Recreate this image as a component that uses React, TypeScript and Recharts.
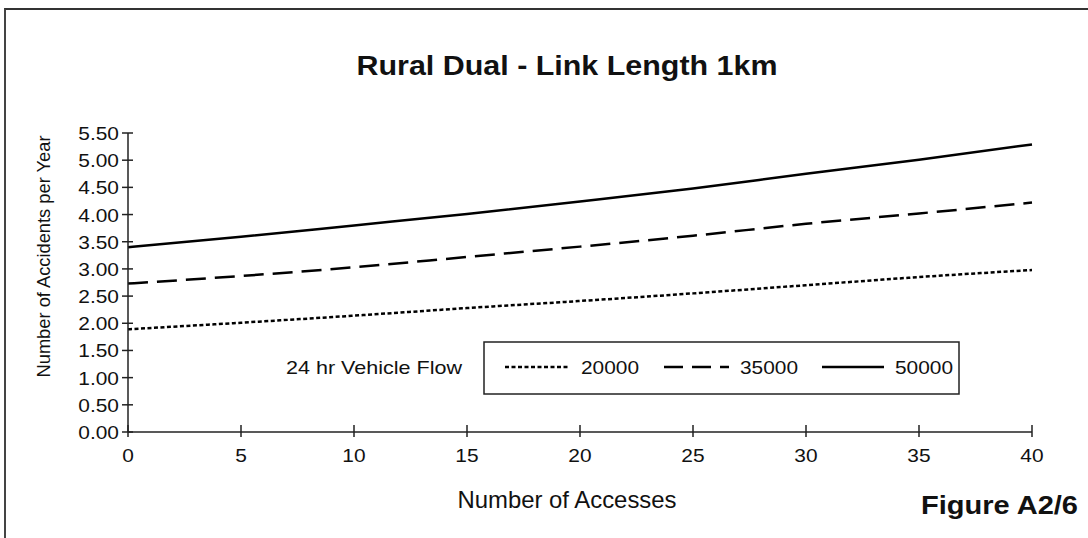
import React from 'react';
import { LineChart, Line, XAxis, YAxis } from 'recharts';

const accesses = [0, 5, 10, 15, 20, 25, 30, 35, 40];
const flow20000 = [1.89, 2.01, 2.14, 2.28, 2.41, 2.55, 2.70, 2.85, 2.98];
const flow35000 = [2.73, 2.87, 3.03, 3.22, 3.41, 3.61, 3.83, 4.02, 4.22];
const flow50000 = [3.40, 3.59, 3.80, 4.01, 4.24, 4.48, 4.75, 5.01, 5.29];
const yTicks = [0, 0.5, 1, 1.5, 2, 2.5, 3, 3.5, 4, 4.5, 5, 5.5];
const xTicks = [0, 5, 10, 15, 20, 25, 30, 35, 40];
const seriesNames = ['20000', '35000', '50000'];

const data = accesses.map((a, i) => ({
  x: a,
  f20000: flow20000[i],
  f35000: flow35000[i],
  f50000: flow50000[i],
}));

const FONT = '"Liberation Sans", Arial, Helvetica, sans-serif';
const SX = 1.1;
const DOT = '4 2.5';
const DASH = '20 9';

const YTick = (props: any) => {
  const { x, y, payload } = props;
  return (
    <g>
      <line x1={x - 6} y1={y} x2={x + 5} y2={y} stroke="#222" strokeWidth={1.5} />
      <text
        x={0}
        y={0}
        transform={`translate(${x - 9},${y + 7}) scale(${SX},1)`}
        textAnchor="end"
        fontFamily={FONT}
        fontSize={19}
        fill="#111"
      >
        {Number(payload.value).toFixed(2)}
      </text>
    </g>
  );
};

const XTick = (props: any) => {
  const { x, y, payload } = props;
  return (
    <g>
      <line x1={x} y1={y - 7} x2={x} y2={y + 5} stroke="#222" strokeWidth={1.5} />
      <text
        x={0}
        y={0}
        transform={`translate(${x},${y + 30}) scale(${SX},1)`}
        textAnchor="middle"
        fontFamily={FONT}
        fontSize={19}
        fill="#111"
      >
        {payload.value}
      </text>
    </g>
  );
};

export default function App() {
  return (
    <div
      style={{
        position: 'absolute',
        left: 0,
        top: 0,
        width: 1088,
        height: 538,
        overflow: 'hidden',
        background: '#fff',
      }}
    >
      <div
        style={{
          position: 'absolute',
          left: 4,
          top: 8,
          width: 2000,
          height: 2000,
          borderTop: '2px solid #333',
          borderLeft: '2px solid #444',
        }}
      />
      <LineChart
        width={1088}
        height={538}
        data={data}
        margin={{ top: 133, right: 56, bottom: 76, left: 68 }}
      >
        <XAxis
          type="number"
          dataKey="x"
          domain={[0, 40]}
          ticks={xTicks}
          height={30}
          tickSize={0}
          tickMargin={0}
          tickLine={false}
          axisLine={{ stroke: '#222', strokeWidth: 1.5 }}
          tick={<XTick />}
          interval={0}
        />
        <YAxis
          type="number"
          domain={[0, 5.5]}
          ticks={yTicks}
          width={60}
          tickSize={0}
          tickMargin={0}
          tickLine={false}
          axisLine={{ stroke: '#222', strokeWidth: 1.5 }}
          tick={<YTick />}
          interval={0}
        />
        <Line
          type="monotone"
          dataKey="f20000"
          name={seriesNames[0]}
          stroke="#000"
          strokeWidth={2.5}
          strokeDasharray={DOT}
          dot={false}
          isAnimationActive={false}
        />
        <Line
          type="monotone"
          dataKey="f35000"
          name={seriesNames[1]}
          stroke="#000"
          strokeWidth={2.5}
          strokeDasharray={DASH}
          dot={false}
          isAnimationActive={false}
        />
        <Line
          type="monotone"
          dataKey="f50000"
          name={seriesNames[2]}
          stroke="#000"
          strokeWidth={2.5}
          dot={false}
          isAnimationActive={false}
        />
      </LineChart>
      <svg
        width={1088}
        height={538}
        style={{ position: 'absolute', left: 0, top: 0, pointerEvents: 'none' }}
        fontFamily={FONT}
      >
        <text x={567} y={75} textAnchor="middle" fontSize={27} fontWeight="bold" fill="#111" textLength={421} lengthAdjust="spacingAndGlyphs">
          Rural Dual - Link Length 1km
        </text>
        <text x={567} y={508} textAnchor="middle" fontSize={24} fill="#111" textLength={219} lengthAdjust="spacingAndGlyphs">
          Number of Accesses
        </text>
        <text
          x={0}
          y={0}
          transform="translate(50,256.5) rotate(-90)"
          textAnchor="middle"
          fontSize={17.5}
          fill="#111"
          textLength={242}
          lengthAdjust="spacingAndGlyphs"
        >
          Number of Accidents per Year
        </text>
        <text x={921} y={514} fontSize={25} fontWeight="bold" fill="#111" textLength={157} lengthAdjust="spacingAndGlyphs">
          Figure A2/6
        </text>
        <text x={286} y={374} fontSize={19} fill="#111" textLength={176} lengthAdjust="spacingAndGlyphs">
          24 hr Vehicle Flow
        </text>
        <rect x={484} y={342} width={475} height={52} fill="none" stroke="#222" strokeWidth={1.5} />
        <line x1={505} y1={367} x2={570} y2={367} stroke="#000" strokeWidth={2.5} strokeDasharray={DOT} />
        <text x={581} y={374} fontSize={19} fill="#111" textLength={58} lengthAdjust="spacingAndGlyphs">
          {seriesNames[0]}
        </text>
        <line x1={664} y1={367} x2={729} y2={367} stroke="#000" strokeWidth={2.5} strokeDasharray="19 9" />
        <text x={740} y={374} fontSize={19} fill="#111" textLength={58} lengthAdjust="spacingAndGlyphs">
          {seriesNames[1]}
        </text>
        <line x1={822} y1={367} x2={884} y2={367} stroke="#000" strokeWidth={2.5} />
        <text x={895} y={374} fontSize={19} fill="#111" textLength={58} lengthAdjust="spacingAndGlyphs">
          {seriesNames[2]}
        </text>
      </svg>
    </div>
  );
}
